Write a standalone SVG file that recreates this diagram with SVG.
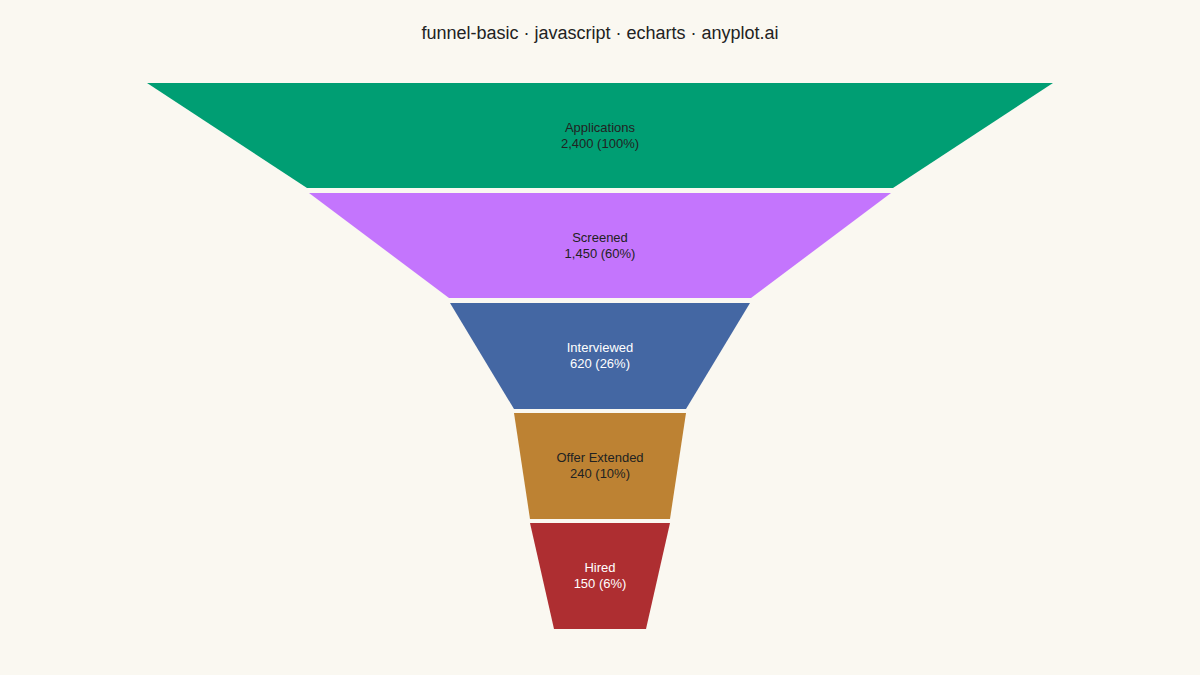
<svg xmlns="http://www.w3.org/2000/svg" width="1200" height="675" viewBox="0 0 1200 675">
<style>
text{font-family:"Liberation Sans",Arial,sans-serif;font-size:13px;text-anchor:middle}
.t{font-size:18px;fill:#222}
.d{fill:#222}.l{fill:#fff}
</style>
<rect width="1200" height="675" fill="#FAF8F1"/>
<text class="t" x="600" y="39">funnel-basic · javascript · echarts · anyplot.ai</text>
<g id="applications"><polygon points="147,83 1053,83 893,188 307,188" fill="#009E73"/><text class="d" x="600" y="132">Applications</text><text class="d" x="600" y="148">2,400 (100%)</text></g>
<g id="screened"><polygon points="309,193 891,193 751,298 449,298" fill="#C475FD"/><text class="d" x="600" y="242">Screened</text><text class="d" x="600" y="258">1,450 (60%)</text></g>
<g id="interviewed"><polygon points="450,303 750,303 686,409 514,409" fill="#4467A3"/><text class="l" x="600" y="352">Interviewed</text><text class="l" x="600" y="368">620 (26%)</text></g>
<g id="offer"><polygon points="514,413 686,413 670,519 530,519" fill="#BD8233"/><text class="d" x="600" y="462">Offer Extended</text><text class="d" x="600" y="478">240 (10%)</text></g>
<g id="hired"><polygon points="530,523 670,523 646,629 554,629" fill="#AE2E31"/><text class="l" x="600" y="572">Hired</text><text class="l" x="600" y="588">150 (6%)</text></g>
<g id="connectors"/>
</svg>
